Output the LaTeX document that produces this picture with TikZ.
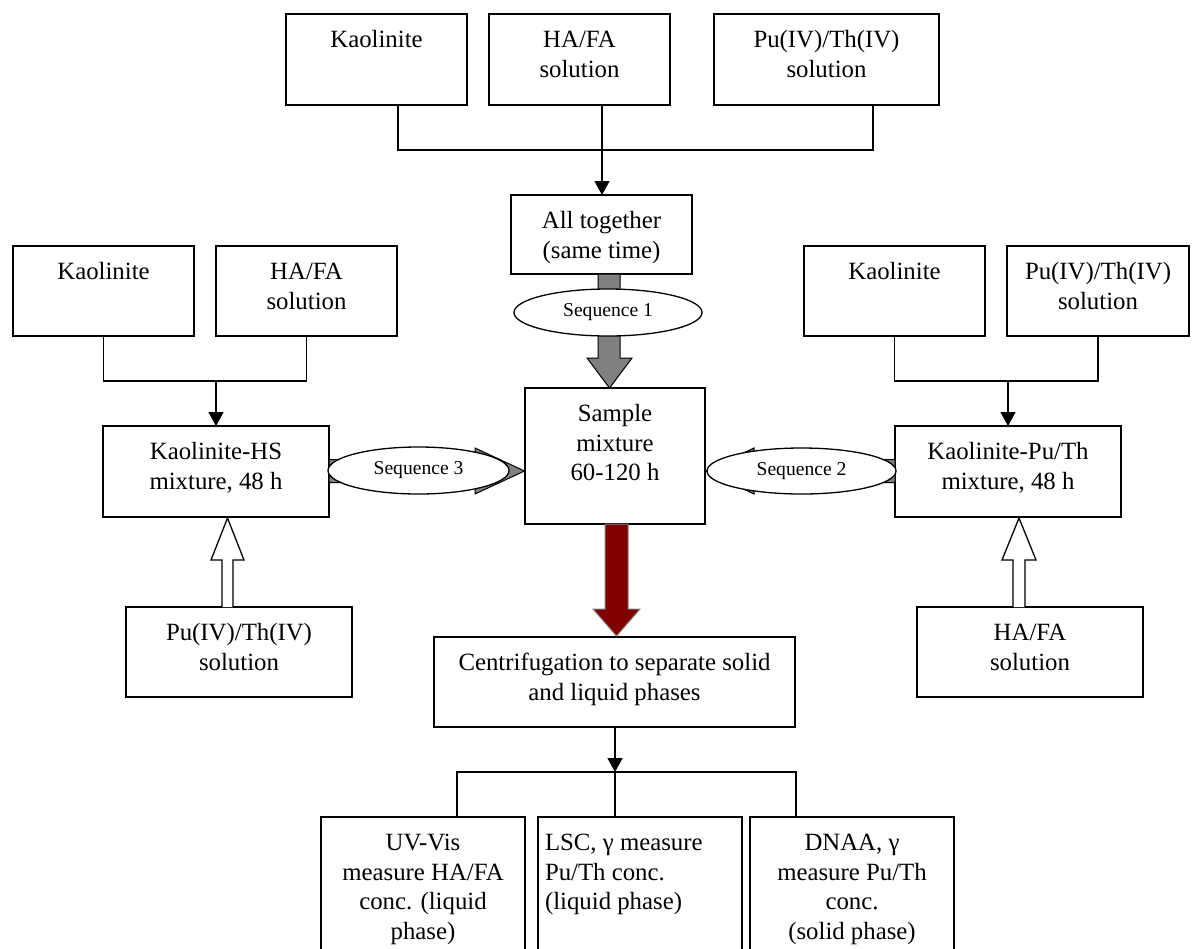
\documentclass[tikz,border=0pt]{standalone}
\usepackage{fontspec}
\setmainfont{Liberation Serif}
\usetikzlibrary{arrows.meta,shapes.geometric}
\definecolor{seqgray}{RGB}{128,128,128}
\definecolor{darkmaroon}{RGB}{128,0,0}
\newcommand{\boxfont}{\fontsize{24.8pt}{29.5pt}\selectfont}
\newcommand{\seqfont}{\fontsize{19.6pt}{23pt}\selectfont}
% box from (x1,y1) to (x2,y2), text set from the top
\newcommand{\flowbox}[6]{%
  \node[procbox] (#1) at (#2,#3)
    {\parbox[t][\dimexpr#5pt-#3pt\relax][t]{\dimexpr#4pt-#2pt\relax}%
      {\centering\vspace*{12.85pt}\strut#6\par}};}

\begin{document}
\begin{tikzpicture}[x=1pt,y=-1pt,
  procbox/.style={draw, line width=1.3pt, inner sep=0pt, outer sep=0pt,
    anchor=north west, font=\boxfont},
  link/.style={line width=1.3pt},
  linkarrow/.style={link, -{Triangle[width=15pt,length=14pt]}},
  seqlabel/.style={ellipse, draw, line width=1.3pt, fill=white,
    inner sep=0pt, font=\seqfont},
  grayarrow/.style={draw=black, line width=1pt, fill=seqgray},
  redarrow/.style={draw=seqgray, line width=1pt, fill=darkmaroon},
  hollowarrow/.style={draw, line width=1.3pt, fill=white}]

\clip (0,0) rectangle (1193,948);

% ---- all components together
\flowbox{tk}{286}{14}{467}{105}{Kaolinite}
\flowbox{th}{489}{14}{670}{105}{HA/FA\\solution}
\flowbox{tp}{714}{14}{939}{105}{Pu(IV)/Th(IV)\\solution}
\flowbox{all}{511}{195}{692}{274}{All together\\(same time)}
\draw[link] ([xshift=112pt]tk.south west) -- ++(0,45) -| ([xshift=159pt]tp.south west);
\draw[linkarrow] ([xshift=113pt]th.south west) -- ([xshift=91pt]all.north west);

% ---- kaolinite + humic substance first
\flowbox{lk}{13}{246}{194}{336}{Kaolinite}
\flowbox{lh}{216}{246}{397}{336}{HA/FA\\solution}
\flowbox{hs}{103}{426}{329}{517}{Kaolinite-HS\\mixture, 48 h}
\coordinate (lbus) at (0,381);
\draw[link] (lk.south) -- ++(0,45) -| (lh.south);
\draw[linkarrow] (hs.north |- lbus) -- (hs.north);

% ---- kaolinite + actinide first
\flowbox{rk}{804}{246}{985}{336}{Kaolinite}
\flowbox{rp}{1007}{246}{1189}{336}{Pu(IV)/Th(IV)\\solution}
\flowbox{kp}{895}{426}{1121}{517}{Kaolinite-Pu/Th\\mixture, 48 h}
\coordinate (rbus) at (0,381);
\draw[link] (rk.south) -- ++(0,45) -| (rp.south);
\draw[linkarrow] (kp.north |- rbus) -- (kp.north);

% ---- central sample
\flowbox{smp}{525}{388}{705}{524}{Sample\\mixture\\60-120 h}

% ---- late additions
\flowbox{lp}{126}{607}{352}{697}{Pu(IV)/Th(IV)\\solution}
\flowbox{rh}{917}{607}{1143}{697}{HA/FA\\solution}
\draw[hollowarrow] (222,607) -- (222,560) -- (211,560) -- (227.5,518)
  -- (244,560) -- (233,560) -- (233,607);
\draw[hollowarrow] (1013,607) -- (1013,560) -- (1002,560) -- (1019,518)
  -- (1036,560) -- (1025,560) -- (1025,607);

% ---- sequence arrows
\draw[grayarrow] (598,274) -- (598,358) -- (587,358) -- (609.5,388)
  -- (632,358) -- (620,358) -- (620,274) -- cycle;
\node[seqlabel, minimum width=188pt, minimum height=47pt] (seq1) at (608,312.5) {Sequence 1};

\draw[grayarrow] (329,459.5) -- (475,459.5) -- (475,448) -- (524.5,471)
  -- (475,494) -- (475,482.5) -- (329,482.5) -- cycle;
\node[seqlabel, minimum width=181pt, minimum height=47pt] (seq3) at (418.5,470.5) {Sequence 3};

\draw[grayarrow] (895,459.5) -- (754,459.5) -- (754,448) -- (705.5,471)
  -- (754,494) -- (754,482.5) -- (895,482.5) -- cycle;
\node[seqlabel, minimum width=189pt, minimum height=46pt] (seq2) at (801.5,471) {Sequence 2};

% ---- separation
\flowbox{cen}{434}{637}{795}{727}{Centrifugation to separate solid\\and liquid phases}
\draw[redarrow] (605,524) -- (605,609) -- (593,609) -- (616.5,636)
  -- (640,609) -- (628,609) -- (628,524) -- cycle;

% ---- measurements
\flowbox{m1}{321}{817}{525}{960}{UV-Vis\\measure HA/FA\\conc. (liquid\\phase)}
\flowbox{m2}{538}{817}{742}{960}{\raggedright\leftskip=7pt\relax LSC, γ measure\\Pu/Th conc.\\(liquid phase)}
\flowbox{m3}{750}{817}{954}{960}{DNAA, γ\\measure Pu/Th\\conc.\\(solid phase)}
\draw[linkarrow] ([xshift=181pt]cen.south west) -- ++(0,45);
\draw[link] ([xshift=136pt]m1.north west) -- ++(0,-45) -| ([xshift=46pt]m3.north west);
\draw[link] ([xshift=77pt]m2.north west) -- ++(0,-45);

\end{tikzpicture}
\end{document}
